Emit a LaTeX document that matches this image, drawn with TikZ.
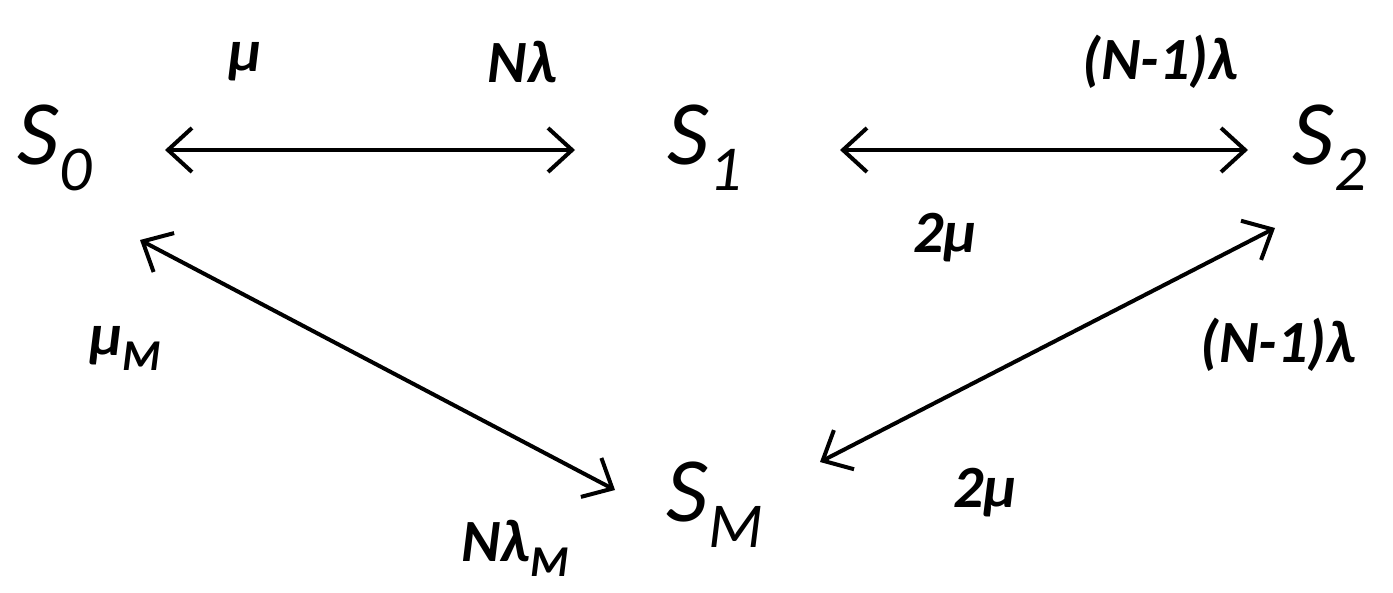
\documentclass[tikz,border=0pt]{standalone}
\usepackage{fontspec}
\setmainfont{Carlito}
\usetikzlibrary{arrows.meta}
\begin{document}
\begin{tikzpicture}[x=0.5pt,y=-0.5pt,
  st/.style={font=\fontsize{46}{50}\selectfont\itshape, inner sep=0pt},
  lb/.style={font=\fontsize{30}{34}\selectfont\bfseries\itshape, inner sep=0pt},
  ar/.style={line width=2pt, {Straight Barb[length=12pt,width=22pt,line width=2pt]}-{Straight Barb[length=12pt,width=22pt,line width=2pt]}}]
\useasboundingbox (0,0) rectangle (1393,593);
\newcommand{\sbx}[1]{\raisebox{-0.28em}{\fontsize{32}{34}\selectfont #1}}
\newcommand{\sbl}[1]{\raisebox{-0.25em}{\fontsize{22}{24}\selectfont #1}}
\node[st] (s0) at (55,148) {S\sbx{0}};
\node[st] (s1) at (705,148) {S\sbx{1}};
\node[st] (s2) at (1330,148) {S\sbx{2}};
\node[st] (sm) at (715,505) {S\sbx{M}};
\draw[ar] ([shift={(110,2)}]s0.center) -- ([shift={(-130,2)}]s1.center);
\draw[ar] ([shift={(135,2)}]s1.center) -- ([shift={(-82,2)}]s2.center);
\draw[ar] ([shift={(85,92)}]s0.center) -- ([shift={(-100,-15)}]sm.center);
\draw[ar] ([shift={(-55,80)}]s2.center) -- ([shift={(105,-43)}]sm.center);
\node[lb] (l1) at (245,62) {μ};
\node[lb] (l2) at (522,62) {Nλ};
\node[lb] (l3) at (1160,62) {(N-1)λ};
\node[lb] (l4) at (945,238) {2μ};
\node[lb] (l5) at (125,348) {μ\sbl{M}};
\node[lb] (l6) at (1278,345) {(N-1)λ};
\node[lb] (l7) at (985,493) {2μ};
\node[lb] (l8) at (515,548) {Nλ\sbl{M}};
\end{tikzpicture}
\end{document}
